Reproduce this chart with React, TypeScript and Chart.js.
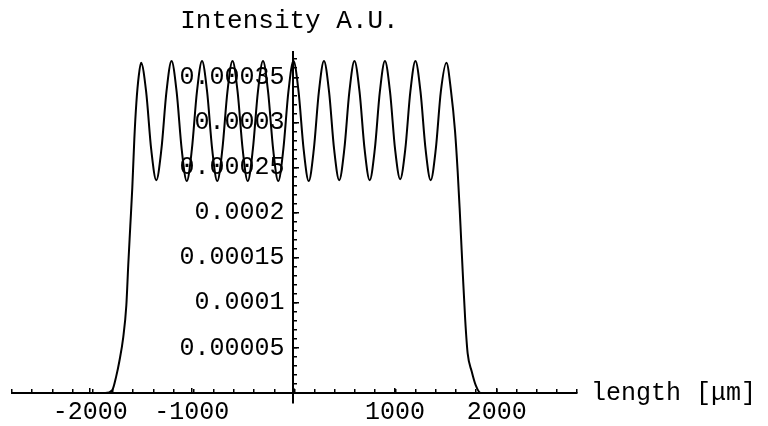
import React, { useEffect, useRef } from "react";
import { Chart, registerables } from "chart.js";

Chart.register(...registerables);

// Sample positions along the length axis (µm)
const lengthUm: number[] = [
  -2770, -1852, -1783, -1744, -1714, -1675, -1645, -1626, -1606, -1586, -1566, -1546, -1522,
  -1500, -1450, -1400, -1350, -1300, -1250,
  -1200, -1150, -1100, -1050, -1000, -950,
  -900, -850, -800, -750, -700, -650,
  -600, -550, -500, -450, -400, -350,
  -300, -250, -200, -150, -100, -50,
  0, 50, 100, 150, 200, 250,
  300, 350, 400, 450, 500, 550,
  600, 650, 700, 750, 800, 850,
  900, 950, 1000, 1050, 1100, 1150,
  1200, 1250, 1300, 1350, 1400, 1450,
  1505, 1550, 1590, 1616, 1635, 1650, 1665, 1690, 1714, 1754, 1793, 1842, 2790,
];

// Intensity (A.U.)
const intensity: number[] = [
  0, 0, 0.0000033, 0.0000188, 0.000035, 0.000062, 0.000097, 0.000142, 0.000185, 0.000228, 0.000282, 0.000322, 0.000352,
  0.000366, 0.000334, 0.00027, 0.000236, 0.00027, 0.000334,
  0.000368, 0.000334, 0.00027, 0.000235, 0.00027, 0.000334,
  0.000368, 0.000334, 0.00027, 0.000235, 0.00027, 0.000334,
  0.000368, 0.000334, 0.00027, 0.000235, 0.00027, 0.000334,
  0.000368, 0.000334, 0.00027, 0.000235, 0.00027, 0.000334,
  0.000368, 0.000334, 0.00027, 0.000235, 0.00027, 0.000334,
  0.000368, 0.000334, 0.00027, 0.000236, 0.00027, 0.000334,
  0.000368, 0.000334, 0.00027, 0.000236, 0.00027, 0.000334,
  0.000368, 0.000334, 0.00027, 0.000237, 0.00027, 0.000334,
  0.000368, 0.000334, 0.00027, 0.000236, 0.00027, 0.000334,
  0.000366, 0.000335, 0.00029, 0.000245, 0.000205, 0.00017, 0.000135, 0.000081, 0.000044, 0.000024, 0.0000088, 0, 0,
];

const xMajorTicks: number[] = [-2000, -1000, 0, 1000, 2000];
const xMajorLabels: string[] = ["-2000", "-1000", "", "1000", "2000"];
const yMajorTicks: number[] = [0, 0.00005, 0.0001, 0.00015, 0.0002, 0.00025, 0.0003, 0.00035];
const yMajorLabels: string[] = ["", "0.00005", "0.0001", "0.00015", "0.0002", "0.00025", "0.0003", "0.00035"];

const X_MIN = -2770;
const X_MAX = 2790;
const Y_MIN = -0.000011; // y axis line pokes slightly below the x axis
const Y_MAX = 0.000378;
// x value (µm) at which the y tick labels end, just left of the y axis
const Y_LABEL_X = -88;

const FONT = '"Liberation Mono", "Courier New", monospace';

export default function App() {
  const ref = useRef<HTMLCanvasElement | null>(null);

  useEffect(() => {
    const canvas = ref.current;
    if (!canvas) return;

    const labelsPlugin = {
      id: "axisLabels",
      afterDraw(chart: any) {
        const { ctx, scales } = chart;
        const x0 = scales.x.getPixelForValue(0);
        const yBase = scales.y.getPixelForValue(0);
        ctx.save();
        ctx.fillStyle = "#000";
        ctx.font = `26px ${FONT}`;
        ctx.textAlign = "center";
        ctx.textBaseline = "alphabetic";
        ctx.fillText("Intensity A.U.", x0 - 4, 28);
        ctx.font = `25px ${FONT}`;
        ctx.textAlign = "left";
        ctx.fillText("length [μm]", scales.x.right + 14, yBase + 7);
        ctx.restore();
      },
    };

    const chart = new Chart(canvas, {
      type: "line",
      data: {
        datasets: [
          {
            data: lengthUm.map((x, i) => ({ x, y: intensity[i] })),
            borderColor: "#000",
            borderWidth: 2,
            pointRadius: 0,
            fill: false,
            cubicInterpolationMode: "monotone",
          },
        ],
      },
      options: {
        animation: false,
        responsive: false,
        devicePixelRatio: 1,
        layout: { padding: { left: 12, right: 191, top: 52, bottom: 23 } },
        plugins: { legend: { display: false }, tooltip: { enabled: false }, title: { display: false } },
        scales: {
          x: {
            type: "linear",
            position: { y: 0 } as any,
            min: X_MIN,
            max: X_MAX,
            afterBuildTicks: (s: any) => {
              s.ticks = xMajorTicks.map((v) => ({ value: v }));
            },
            ticks: {
              autoSkip: false,
              maxRotation: 0,
              color: "#000",
              font: { family: FONT, size: 25 },
              padding: 10,
              callback: (_v: any, i: number) => xMajorLabels[i],
            },
            grid: { drawOnChartArea: false, drawTicks: true, tickLength: -6, color: "#000", lineWidth: 1.5 },
            border: { display: true, color: "#000", width: 2 },
          },
          xMinor: {
            type: "linear",
            position: { y: 0 } as any,
            min: X_MIN,
            max: X_MAX,
            ticks: { stepSize: 200, includeBounds: false, autoSkip: false, callback: () => "" },
            grid: { drawOnChartArea: false, drawTicks: true, tickLength: -4, color: "#000", lineWidth: 1.5 },
            border: { display: false },
          },
          y: {
            type: "linear",
            position: { x: 0 } as any,
            min: Y_MIN,
            max: Y_MAX,
            afterBuildTicks: (s: any) => {
              s.ticks = yMajorTicks.map((v) => ({ value: v }));
            },
            ticks: { autoSkip: false, callback: () => "" },
            grid: { drawOnChartArea: false, drawTicks: true, tickLength: -7, color: "#000", lineWidth: 1.5 },
            border: { display: true, color: "#000", width: 2 },
          },
          yLabels: {
            type: "linear",
            position: { x: Y_LABEL_X } as any,
            min: Y_MIN,
            max: Y_MAX,
            afterBuildTicks: (s: any) => {
              s.ticks = yMajorTicks.map((v) => ({ value: v }));
            },
            ticks: {
              autoSkip: false,
              color: "#000",
              font: { family: FONT, size: 25 },
              padding: 0,
              callback: (_v: any, i: number) => yMajorLabels[i],
            },
            grid: { drawOnChartArea: false, drawTicks: false },
            border: { display: false },
          },
          yMinor: {
            type: "linear",
            position: { x: 0 } as any,
            min: Y_MIN,
            max: Y_MAX,
            afterBuildTicks: (s: any) => {
              s.ticks = s.ticks.filter((t: any) => t.value > 0);
            },
            ticks: { stepSize: 0.00001, includeBounds: false, autoSkip: false, callback: () => "" },
            grid: { drawOnChartArea: false, drawTicks: true, tickLength: -4, color: "#000", lineWidth: 1.5 },
            border: { display: false },
          },
        },
      } as any,
      plugins: [labelsPlugin],
    });

    return () => chart.destroy();
  }, []);

  return (
    <div style={{ position: "absolute", left: 0, top: 0, width: 768, height: 426, background: "#fff" }}>
      <canvas ref={ref} width={768} height={426} style={{ display: "block" }} />
    </div>
  );
}
